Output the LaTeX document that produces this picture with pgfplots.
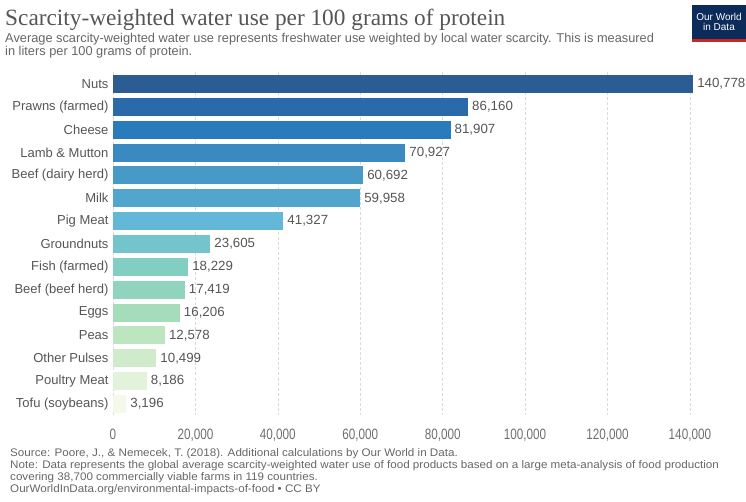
\documentclass[border=0pt]{standalone}
\usepackage{pgfplots}
\pgfplotsset{compat=1.18}
\usepackage{fontspec}
\setmainfont{Liberation Sans}
\newfontfamily\titlefont{Liberation Serif}
\newfontfamily\narrowfont{Liberation Sans}[FakeStretch=0.78]
\newfontfamily\footfont{Liberation Sans}[FakeStretch=1.058]
\definecolor{c1}{HTML}{2B5C94}
\definecolor{c2}{HTML}{2A6AAA}
\definecolor{c3}{HTML}{2A7BBB}
\definecolor{c4}{HTML}{3A8AC1}
\definecolor{c5}{HTML}{4799C6}
\definecolor{c6}{HTML}{52A6CE}
\definecolor{c7}{HTML}{62B8D6}
\definecolor{c8}{HTML}{74C4CC}
\definecolor{c9}{HTML}{82CEC3}
\definecolor{c10}{HTML}{90D4BE}
\definecolor{c11}{HTML}{A5DCB9}
\definecolor{c12}{HTML}{BCE5C0}
\definecolor{c13}{HTML}{CFEBCB}
\definecolor{c14}{HTML}{E1F3DA}
\definecolor{c15}{HTML}{F4FAEA}
\definecolor{txt}{HTML}{555555}
\definecolor{owid}{HTML}{0B2B5B}
\definecolor{owidred}{HTML}{CE261E}
\begin{document}
\begin{tikzpicture}
\path[use as bounding box] (0,0) rectangle (746pt,502pt);
% title block
\node[anchor=base west, inner sep=0, text=txt, font=\titlefont\fontsize{23.3}{23.3}\selectfont] at (5pt,476.5pt) {Scarcity-weighted water use per 100 grams of protein};
\node[anchor=base west, inner sep=0, text=txt!90, font=\fontsize{12.8}{12.8}\selectfont] at (5pt,459pt) {Average scarcity-weighted water use represents freshwater use weighted by local water scarcity. This is measured};
\node[anchor=base west, inner sep=0, text=txt!90, font=\fontsize{12.8}{12.8}\selectfont] at (5pt,446.5pt) {in liters per 100 grams of protein.};
% logo
\fill[owid] (692pt,460pt) rectangle (746pt,497pt);
\fill[owidred] (692pt,460pt) rectangle (746pt,463pt);
\node[text=white, align=center, font=\fontsize{10}{10.5}\selectfont, inner sep=0] at (719pt,480pt) {Our World\\in Data};
\begin{axis}[
  at={(113pt,86.6pt)}, anchor=south west,
  scale only axis, width=581pt, height=342.9pt,
  xmin=0, xmax=141000, ymin=-0.5, ymax=14.5, y dir=reverse,
  xbar, bar width=18pt, bar shift=0pt,
  axis x line*=bottom, axis y line*=left,
  axis line style={draw=none},
  major tick length=0pt,
  scaled x ticks=false,
  xtick={0,20000,40000,60000,80000,100000,120000,140000},
  ytick={0,...,14},
  yticklabels={Nuts,Prawns (farmed),Cheese,Lamb \& Mutton,Beef (dairy herd),Milk,Pig Meat,Groundnuts,Fish (farmed),Beef (beef herd),Eggs,Peas,Other Pulses,Poultry Meat,Tofu (soybeans)},
  xmajorgrids, ymajorgrids=false,
  grid style={densely dashed, gray!30, line width=0.6pt},
  xticklabel style={font=\narrowfont\fontsize{15}{15}\selectfont, text=txt!85, yshift=-10pt},
  yticklabel style={font=\fontsize{13}{13}\selectfont, text=txt, xshift=-1pt},
  /pgf/number format/assume math mode=true,
  /pgf/number format/fixed,
  /pgf/number format/precision=0,
  /pgf/number format/1000 sep={,},
  point meta=x,
  nodes near coords={\pgfmathprintnumber{\pgfplotspointmeta}},
  nodes near coords style={anchor=west, font=\fontsize{13.3}{13.3}\selectfont, text=txt, inner sep=4pt},
  clip=false,
]
\addplot[fill=c1, draw=none] coordinates {(140778,0)};
\addplot[fill=c2, draw=none] coordinates {(86160,1)};
\addplot[fill=c3, draw=none] coordinates {(81907,2)};
\addplot[fill=c4, draw=none] coordinates {(70927,3)};
\addplot[fill=c5, draw=none] coordinates {(60692,4)};
\addplot[fill=c6, draw=none] coordinates {(59958,5)};
\addplot[fill=c7, draw=none] coordinates {(41327,6)};
\addplot[fill=c8, draw=none] coordinates {(23605,7)};
\addplot[fill=c9, draw=none] coordinates {(18229,8)};
\addplot[fill=c10, draw=none] coordinates {(17419,9)};
\addplot[fill=c11, draw=none] coordinates {(16206,10)};
\addplot[fill=c12, draw=none] coordinates {(12578,11)};
\addplot[fill=c13, draw=none] coordinates {(10499,12)};
\addplot[fill=c14, draw=none] coordinates {(8186,13)};
\addplot[fill=c15, draw=none] coordinates {(3196,14)};
\end{axis}
% footer
\begin{scope}[every node/.style={anchor=base west, inner sep=0, text=txt!90, font=\footfont\fontsize{11}{11}\selectfont}]
\node at (10pt,45pt) {Source: Poore, J., \& Nemecek, T. (2018). Additional calculations by Our World in Data.};
\node at (10pt,33.3pt) {Note: Data represents the global average scarcity-weighted water use of food products based on a large meta-analysis of food production};
\node at (10pt,21.5pt) {covering 38,700 commercially viable farms in 119 countries.};
\node at (10pt,9pt) {OurWorldInData.org/environmental-impacts-of-food • CC BY};
\end{scope}
\end{tikzpicture}
\end{document}
